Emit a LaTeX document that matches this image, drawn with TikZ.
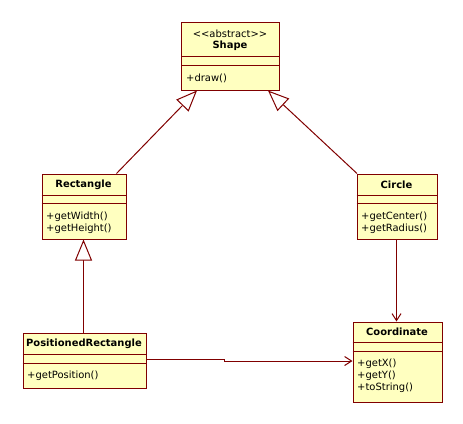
\documentclass[tikz,border=0pt]{standalone}
\usepackage{fontspec}
\setmainfont{DejaVu Sans}
\usetikzlibrary{arrows.meta,calc}
\definecolor{umlline}{RGB}{128,0,0}
\definecolor{umlfill}{RGB}{255,255,192}
\tikzset{
  cls/.style={draw=umlline, fill=umlfill, line width=1bp, rectangle, inner sep=0pt, anchor=north west},
  sep/.style={draw=umlline, line width=1bp},
  ttl/.style={font=\fontsize{10}{12}\selectfont\bfseries, inner sep=0pt, anchor=center},
  stereo/.style={font=\fontsize{10}{12}\selectfont, inner sep=0pt, anchor=center},
  mth/.style={font=\fontsize{10}{12}\selectfont, inner sep=0pt, anchor=west},
  gen/.style={draw=umlline, line width=1bp, -{Triangle[open, length=21bp, width=17bp, fill=white]}},
  assoc/.style={draw=umlline, line width=1bp, -{Straight Barb[length=7bp, width=9bp]}}
}
\begin{document}
\begin{tikzpicture}[x=1bp, y=-1bp]
\useasboundingbox (0,0) rectangle (463,423);
% Shape
\node[cls, minimum width=98bp, minimum height=68bp] (shape) at (181,21.5) {};
\draw[sep] (181,56.5) -- (279,56.5) (181,65.5) -- (279,65.5);
\node[stereo] (shapeST) at (230,34) {{<}{<}abstract{>}{>}};
\node[ttl] (shapeT) at (230,46) {Shape};
\node[mth] (shapeM1) at (186,78) {+draw()};
% Rectangle
\node[cls, minimum width=84bp, minimum height=65bp] (rect) at (41.5,173.5) {};
\draw[sep] (41.5,195.5) -- (125.5,195.5) (41.5,203.5) -- (125.5,203.5);
\node[ttl] (rectT) at (83.5,185) {Rectangle};
\node[mth] (rectM1) at (46,216.5) {+getWidth()};
\node[mth] (rectM2) at (46,228.5) {+getHeight()};
% Circle
\node[cls, minimum width=80bp, minimum height=65bp] (circ) at (356.5,173.5) {};
\draw[sep] (356.5,195.5) -- (436.5,195.5) (356.5,203.5) -- (436.5,203.5);
\node[ttl] (circT) at (396.5,185) {Circle};
\node[mth] (circM1) at (361,216.5) {+getCenter()};
\node[mth] (circM2) at (361,228.5) {+getRadius()};
% PositionedRectangle
\node[cls, minimum width=123bp, minimum height=55bp] (prect) at (22.5,332.5) {};
\draw[sep] (22.5,354.5) -- (145.5,354.5) (22.5,363.5) -- (145.5,363.5);
\node[ttl] (prectT) at (84,344) {PositionedRectangle};
\node[mth] (prectM1) at (27,375.5) {+getPosition()};
% Coordinate
\node[cls, minimum width=89bp, minimum height=80bp] (coord) at (352.5,321.5) {};
\draw[sep] (352.5,342.5) -- (441.5,342.5) (352.5,351.5) -- (441.5,351.5);
\node[ttl] (coordT) at (397,332) {Coordinate};
\node[mth] (coordM1) at (357,363.5) {+getX()};
\node[mth] (coordM2) at (357,375.5) {+getY()};
\node[mth] (coordM3) at (357,387.5) {+toString()};
% connector ends
\coordinate (rectTop) at ($(rect.north west)+(75,0)$);
\coordinate (shapeL) at ($(shape.south west)+(16,0)$);
\coordinate (circTop) at ($(circ.north west)+(0.5,0)$);
\coordinate (shapeR) at ($(shape.south west)+(87,0)$);
\coordinate (prectTop) at ($(prect.north west)+(61,0)$);
\coordinate (rectBot) at ($(rect.south west)+(42,0)$);
\coordinate (circBot) at ($(circ.south west)+(40,0)$);
\coordinate (coordTop) at ($(coord.north west)+(44,0)$);
\coordinate (prectR) at ($(prect.north east)+(0,27)$);
\coordinate (coordL) at ($(coord.north west)+(0,39.5)$);
% connectors
\draw[gen] (rectTop) -- (shapeL);
\draw[gen] (circTop) -- (shapeR);
\draw[gen] (prectTop) -- (rectBot);
\draw[assoc] (circBot) -- (coordTop);
\draw[assoc] (prectR) -- ++(78,0) |- (coordL);
\end{tikzpicture}
\end{document}
